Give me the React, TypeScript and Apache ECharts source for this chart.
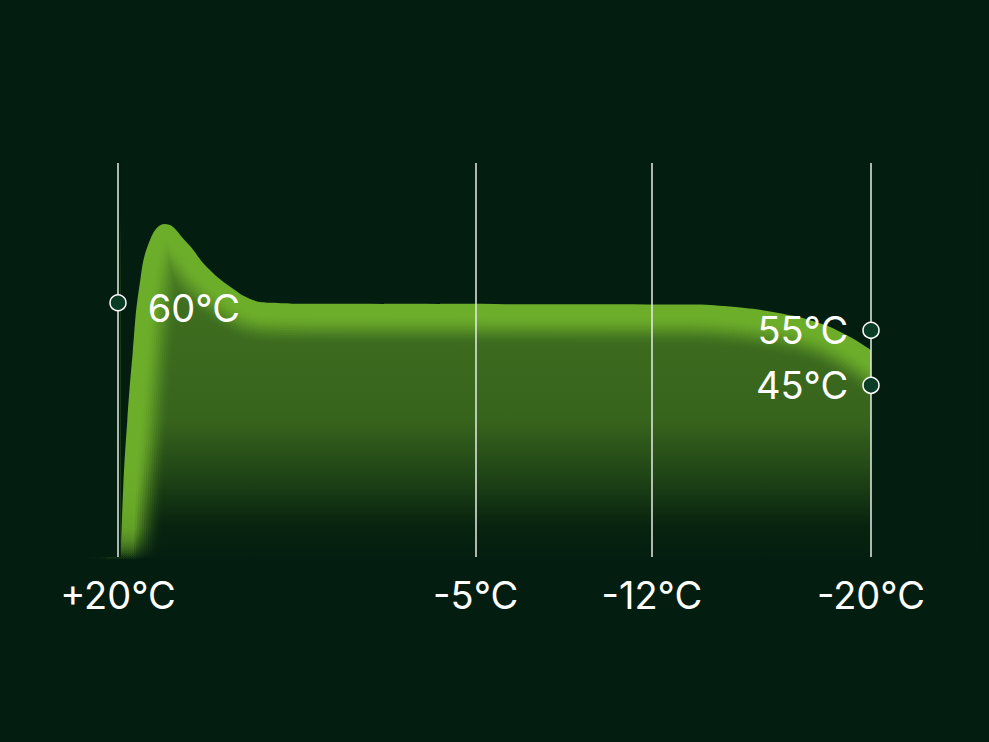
import React, { useEffect, useRef } from 'react';
import * as echarts from 'echarts';

// Ambient temperature guide lines (x position along the run, label)
const ambientPositions = [0, 47.5, 70.9, 100];
const ambientLabels = ['+20°C', '-5°C', '-12°C', '-20°C'];

// Water temperature curve (x position, °C)
const curveX = [0.36, 0.7, 1.24, 1.95, 2.83, 4.25, 6.24, 9.16, 11.8, 14.9, 17.9, 20.2, 26.8, 76, 81.3, 87.9, 93.2, 96.8, 100];
const curveTemp = [13.8, 26.5, 38.7, 50.9, 62.9, 71.4, 74.3, 70.9, 66.5, 62.9, 60.5, 60.0, 59.8, 59.7, 59.3, 58.1, 56.3, 54.1, 51.4];

// Highlighted points
const markerX = [0, 100, 100];
const markerTemps = [60, 55, 45];
const markerSides = ['right', 'left', 'left'];

const BG = '#031d10';

export default function App() {
  const ref = useRef<HTMLDivElement>(null);

  useEffect(() => {
    if (!ref.current) return;
    const chart = echarts.init(ref.current, undefined, { renderer: 'svg' });
    const curve = curveX.map((x, i) => [x, curveTemp[i]]);

    const baseFill = new echarts.graphic.LinearGradient(0, 163, 0, 565, [
      { offset: 0, color: '#4c8023' },
      { offset: 0.4, color: '#3d6c1f' },
      { offset: 0.64, color: '#37641c' },
      { offset: 0.78, color: '#1f4416' },
      { offset: 0.9, color: '#08240f' },
      { offset: 1, color: BG },
    ], true);

    const glowStroke = new echarts.graphic.LinearGradient(0, 163, 0, 560, [
      { offset: 0, color: 'rgba(108,173,42,1)' },
      { offset: 0.72, color: 'rgba(108,173,42,1)' },
      { offset: 0.92, color: 'rgba(108,173,42,0.5)' },
      { offset: 1, color: 'rgba(108,173,42,0)' },
    ], true);

    const smooth = 0.45;

    // soft inner glow built from stacked strokes (core + fading rings)
    const CORE = 13;
    const N = 12;
    const STEP = 2.3;
    const targets = Array.from({ length: N }, (_, k) => {
      const t = (N - k) / (N + 1);
      return t * t * (3 - 2 * t);
    });
    const alphas: number[] = new Array(N);
    for (let k = N - 1; k >= 0; k--) {
      const outer = k === N - 1 ? 0 : targets[k + 1];
      alphas[k] = 1 - (1 - targets[k]) / (1 - outer);
    }
    const glowSeries: any[] = [
      { half: CORE, alpha: 1 },
      ...alphas.map((a, k) => ({ half: CORE + (k + 1) * STEP, alpha: a })),
    ].map((g) => ({
      type: 'line',
      z: 2,
      data: curve,
      smooth,
      showSymbol: false,
      silent: true,
      clip: false,
      lineStyle: {
        width: g.half * 2,
        color: glowStroke,
        opacity: g.alpha,
        cap: 'square',
        join: 'round',
      },
    }));

    chart.setOption({
      animation: false,
      backgroundColor: BG,
      grid: { left: 5.05, right: 5.05, top: 163, bottom: 185 },
      xAxis: { type: 'value', min: -15, max: 115, show: false, splitLine: { show: false } },
      yAxis: { type: 'value', min: 13.8, max: 85.4, show: false, splitLine: { show: false } },
      series: [
        {
          type: 'line',
          z: 1,
          data: curve,
          smooth,
          showSymbol: false,
          silent: true,
          clip: false,
          lineStyle: { width: 0, opacity: 0 },
          areaStyle: { color: baseFill, opacity: 1 },
        },
        ...glowSeries.reverse(),
        {
          type: 'line',
          z: 3,
          data: curve,
          smooth,
          showSymbol: false,
          silent: true,
          lineStyle: { width: 0, opacity: 0 },
          areaStyle: { color: BG, opacity: 1, origin: 'end' },
          markArea: {
            z: 3,
            silent: true,
            itemStyle: { color: BG, opacity: 1 },
            label: { show: false },
            data: [
              [{ xAxis: -15 }, { xAxis: curveX[0] }],
              [{ xAxis: curveX[curveX.length - 1] }, { xAxis: 115 }],
            ],
          },
        },
        {
          type: 'scatter',
          z: 6,
          data: markerX.map((x, i) => ({
            value: [x, markerTemps[i]],
            label: {
              position: markerSides[i],
              distance: markerSides[i] === 'right' ? 21 : 14,
              offset: markerSides[i] === 'right' ? [0, 5] : [0, 0],
            },
          })),
          symbol: 'circle',
          symbolSize: 16,
          itemStyle: { color: '#0b3d26', borderColor: '#ffffff', borderWidth: 1.5, opacity: 1 },
          label: {
            show: true,
            color: '#ffffff',
            fontFamily: 'Inter',
            fontSize: 38,
            formatter: (p: any) => `${p.value[1]}°C`,
          },
          markLine: {
            z: 6,
            silent: true,
            symbol: 'none',
            animation: false,
            lineStyle: { color: '#e6ede6', width: 1.5, type: 'solid', opacity: 1 },
            label: {
              show: true,
              position: 'start',
              distance: 19,
              color: '#ffffff',
              fontFamily: 'Inter',
              fontSize: 38,
              formatter: '{b}',
            },
            data: ambientPositions.map((x, i) => ({ xAxis: x, name: ambientLabels[i] })),
          },
        },
      ],
    });
    return () => chart.dispose();
  }, []);

  return (
    <div
      ref={ref}
      style={{ position: 'fixed', left: 0, top: 0, width: 989, height: 742, background: BG }}
    />
  );
}
